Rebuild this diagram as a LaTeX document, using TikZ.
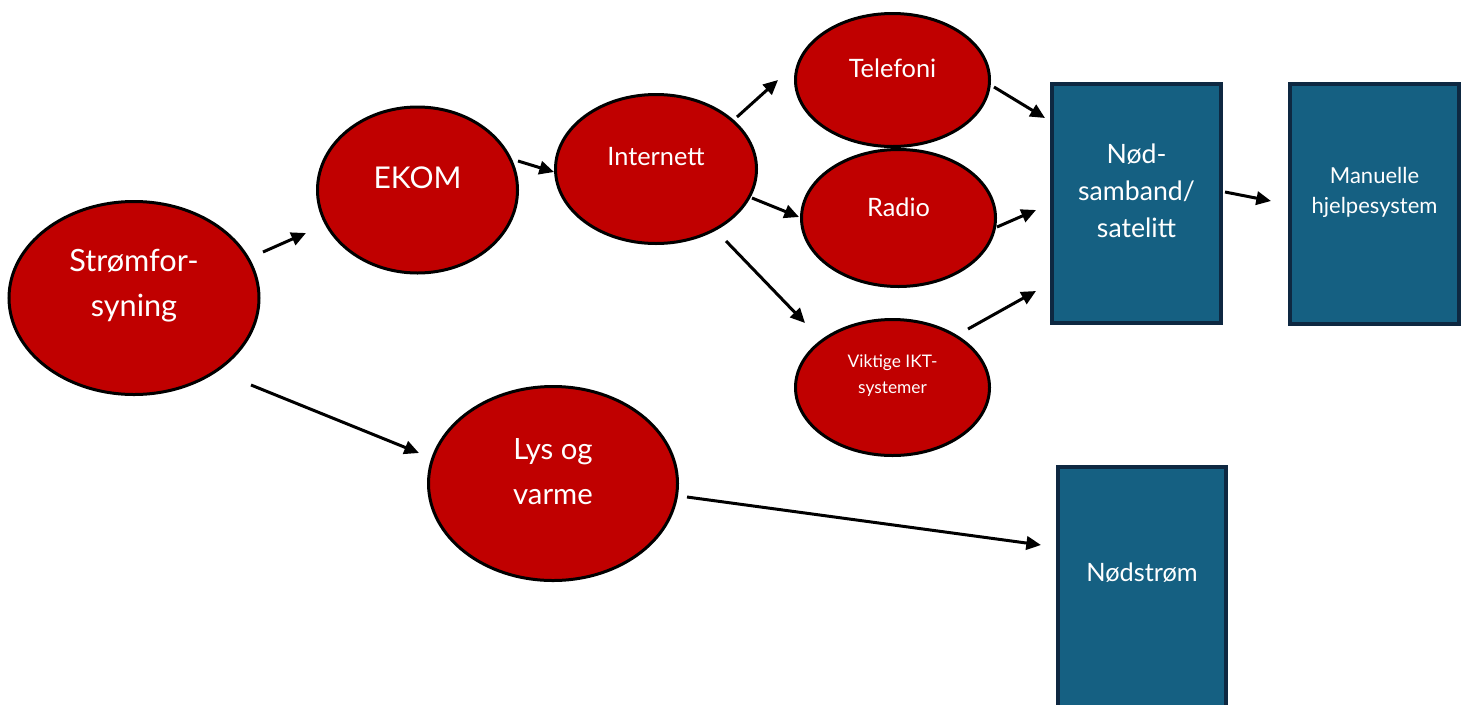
\documentclass[tikz,border=0pt]{standalone}
\usepackage{fontspec}
\setmainfont{Lato}
\usetikzlibrary{arrows.meta,shapes.geometric}
\definecolor{nodered}{HTML}{C00000}
\definecolor{boxfill}{HTML}{156082}
\definecolor{boxline}{HTML}{0E2841}
\tikzset{
  ellip/.style={ellipse, draw=black, line width=2.25pt, fill=nodered, inner sep=0pt},
  boxnode/.style={rectangle, draw=boxline, line width=3pt, fill=boxfill, inner sep=0pt},
  txt/.style={text=white, align=center, inner sep=0pt},
  arr/.style={line width=2.25pt, -{Triangle[length=11pt,width=10pt]}}
}
\begin{document}
\begin{tikzpicture}[x=0.75pt,y=-0.75pt]
\clip (0,0) rectangle (1462,704);
\fill[white] (0,0) rectangle (1462,704);
% ellipses
\node[ellip, minimum width=187.5pt, minimum height=144.75pt] (strom) at (134,298) {};
\node[ellip, minimum width=150pt, minimum height=124.5pt] (ekom) at (417.5,190) {};
\node[ellip, minimum width=150.75pt, minimum height=111.75pt] (inet) at (656,169) {};
\node[ellip, minimum width=145.5pt, minimum height=99.75pt] (tel) at (892.5,80) {};
\node[ellip, minimum width=145.5pt, minimum height=102.75pt] (radio) at (898.5,218) {};
\node[ellip, minimum width=145.5pt, minimum height=102pt] (ikt) at (892.5,387.5) {};
\node[ellip, minimum width=186.75pt, minimum height=145.5pt] (lys) at (553,483.5) {};
% boxes
\node[boxnode, minimum width=126.75pt, minimum height=179.25pt] (nod) at (1136.5,203.5) {};
\node[boxnode, minimum width=126.75pt, minimum height=180pt] (man) at (1374.5,204) {};
\node[boxnode, minimum width=126pt, minimum height=195pt] (nods) at (1142,597) {};
% texts
\node[txt, font=\fontsize{23}{33.75}\selectfont] (stromt) at (134,286) {Strømfor-\\syning};
\node[txt, font=\fontsize{22.5}{33.75}\selectfont] (ekomt) at (417.5,178) {EKOM};
\node[txt, font=\fontsize{19}{24}\selectfont] (inett) at (656,157) {Internett};
\node[txt, font=\fontsize{19}{24}\selectfont] (telt) at (892.5,68) {Telefoni};
\node[txt, font=\fontsize{19}{24}\selectfont] (radiot) at (898.5,207) {Radio};
\node[txt, font=\fontsize{13}{19.5}\selectfont] (iktt) at (892.5,376) {Viktige IKT-\\systemer};
\node[txt, font=\fontsize{22}{33.75}\selectfont] (lyst) at (553,472) {Lys og\\varme};
\node[txt, font=\fontsize{20}{27.75}\selectfont] (nodt) at (1136.5,191) {Nød-\\samband/\\satelitt};
\node[txt, font=\fontsize{16.5}{22.5}\selectfont] (mant) at (1374.5,192) {Manuelle\\hjelpesystem};
\node[txt, font=\fontsize{19}{24}\selectfont] (nodst) at (1142,573) {Nødstrøm};
% arrow end points
\coordinate (a1s) at (263,252); \coordinate (a1e) at (306,233);
\coordinate (a2s) at (251,385); \coordinate (a2e) at (419,453);
\coordinate (a3s) at (518,161); \coordinate (a3e) at (554,172);
\coordinate (a4s) at (737,117); \coordinate (a4e) at (778,80);
\coordinate (a5s) at (752,198); \coordinate (a5e) at (799,217);
\coordinate (a6s) at (726,241); \coordinate (a6e) at (805,323);
\coordinate (a7s) at (994,87);  \coordinate (a7e) at (1045,118);
\coordinate (a8s) at (997,227); \coordinate (a8e) at (1036,210);
\coordinate (a9s) at (968,329); \coordinate (a9e) at (1036,291);
\coordinate (a10s) at (1225,192); \coordinate (a10e) at (1271,201);
\coordinate (a11s) at (687,497); \coordinate (a11e) at (1041,545);
\foreach \i in {1,...,11} { \draw[arr] (a\i s) -- (a\i e); }
\end{tikzpicture}
\end{document}
